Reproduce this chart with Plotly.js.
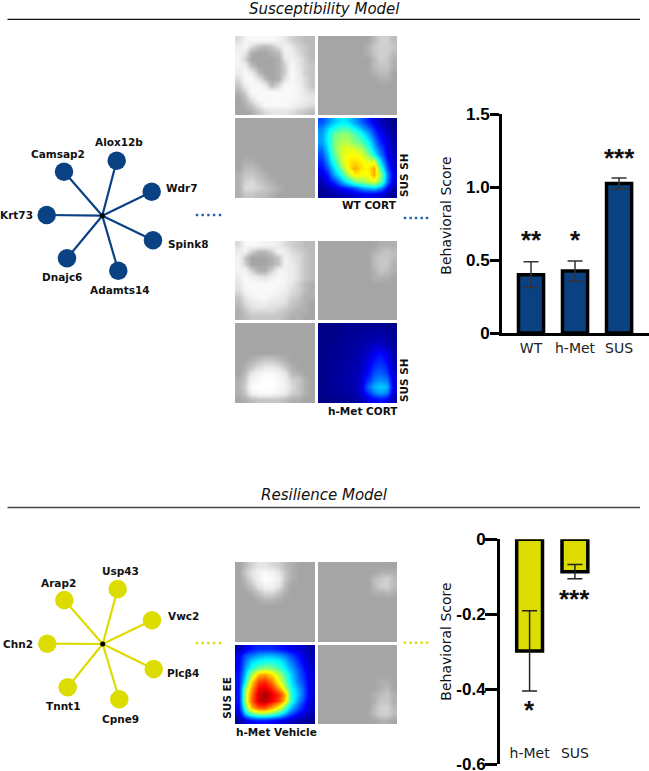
<!DOCTYPE html>
<html><head><meta charset="utf-8">
<script src="https://cdn.plot.ly/plotly-3.0.1.min.js"></script>
<style>html,body{margin:0;padding:0;background:#fff;overflow:hidden}#c{width:649px;height:771px}</style>
</head><body><div id="c"></div>
<script>
// ---------- data ----------
const susGenes = ['Alox12b','Camsap2','Wdr7','Krt73','Spink8','Dnajc6','Adamts14'];
const susNodeX = [116.7,64,151.7,46.7,153,67,118.3];
const susNodeY = [160.7,171.7,191.7,215,240.3,258.3,270.7];
const susHub = [102.3,215.7];
const susLabelX = [119.3,57.7,182.3,16,188,62.3,120];
const susLabelY = [142.3,154.3,188,215.3,244,277,290.3];

const resGenes = ['Usp43','Arap2','Vwc2','Chn2','Plcβ4','Tnnt1','Cpne9'];
const resNodeX = [117.7,64.3,152,47.3,153.7,67.7,119.3];
const resNodeY = [589,600,620.3,643.7,669,687.3,699.3];
const resHub = [102.7,644];
const resLabelX = [120,58.7,183.3,17.7,183.3,63,120.3];
const resLabelY = [570.7,583,616.3,644.3,673,705.7,719];

const susCats = ['WT','h-Met','SUS'];
const susVals = [0.40,0.425,1.025];
const susErr = [0.088,0.068,0.038];
const susStars = ['**','*','***'];
const susTicks = [0,0.5,1.0,1.5];
const susTickText = ['0','0.5','1.0','1.5'];

const resCats = ['h-Met','SUS'];
const resVals = [-0.298,-0.0865];
const resErr = [0.107,0.019];
const resStars = ['*','***'];
const resTicks = [0,-0.2,-0.4,-0.6];
const resTickText = ['0','-0.2','-0.4','-0.6'];

const wtTL = [
[5,8,9,9,9,9,8,6,4,3,2,2],[7,9,5,3,2,3,6,8,6,4,3,2],[8,6,1,0,0,1,2,8,7,5,3,2],[8,4,0,0,0,0,1,6,8,6,4,2],
[8,7,2,0,0,0,1,4,9,6,4,3],[7,9,7,2,0,0,1,4,9,7,4,3],[5,9,9,6,2,0,1,6,9,7,5,3],[3,7,9,9,7,2,5,9,9,8,5,3],
[1,4,9,9,9,9,9,9,9,8,6,5],[0,2,6,9,9,9,9,9,9,8,7,6],[0,1,3,6,9,9,9,9,8,7,6,5],[0,0,1,3,5,6,6,6,5,4,3,2]];
const wtTR = [
[0,0,0,0,0,0,0,0,2,4,4,2],[0,0,0,0,0,0,0,1,3,4,4,3],[0,0,0,0,0,0,0,1,3,4,4,2],[0,0,0,0,0,0,0,0,2,4,3,1],
[0,0,0,0,0,0,0,0,2,3,3,1],[0,0,0,0,0,0,0,0,1,2,2,0],[0,0,0,0,0,0,0,0,0,1,1,0],[0,0,0,0,0,0,0,0,0,0,0,0],
[0,0,0,0,0,0,0,0,0,0,0,0],[0,0,0,0,0,0,0,0,0,0,0,0],[0,0,0,0,0,0,0,0,0,0,0,0],[0,0,0,0,0,0,0,0,0,0,0,0]];
const wtBL = [
[0,0,0,0,0,0,0,0,0,0,0,0],[0,0,0,0,0,0,0,0,0,0,0,0],[0,0,0,0,0,0,0,0,0,0,0,0],[0,0,0,0,0,0,0,0,0,0,0,0],
[0,0,0,0,0,0,0,0,0,0,0,0],[0,0,0,0,0,0,0,0,0,0,0,0],[0,1,1,0,0,0,0,0,0,0,0,0],[0,2,2,1,0,0,0,0,0,0,0,0],
[1,3,3,2,1,0,0,0,0,0,0,0],[1,4,5,3,2,1,0,0,0,0,0,0],[1,5,5,4,3,2,1,0,0,0,0,0],[1,3,3,2,2,1,0,0,0,0,0,0]];
const wtJet = [
[20,26,32,36,34,28,22,16,10,6,3,1],[26,34,40,44,44,37,30,23,15,9,5,2],[28,38,48,52,52,46,40,31,20,12,7,3],
[28,38,50,55,55,50,46,38,26,15,9,4],[24,36,50,58,60,58,54,44,30,20,10,5],[20,32,48,58,62,62,60,52,38,24,12,6],
[16,28,42,56,64,66,64,60,60,34,16,7],[13,22,36,50,62,71,65,63,71,44,20,8],[9,16,30,40,54,64,62,62,71,52,26,10],
[5,11,18,28,38,48,52,56,60,48,24,8],[3,5,8,12,16,20,26,30,32,26,12,4],[2,3,4,5,6,8,10,10,10,8,4,2]];

const hmTL = [
[5,9,9,9,8,8,7,5,4,3,2,2],[7,8,4,2,2,4,8,7,5,4,3,2],[8,3,0,0,0,1,3,8,6,5,3,2],[8,4,0,0,0,1,3,8,7,5,3,2],
[8,8,4,1,1,4,8,8,7,5,3,2],[7,9,8,7,6,8,9,8,7,5,3,2],[6,9,9,9,9,9,9,8,6,4,2,1],[5,8,9,9,9,9,8,7,5,4,2,1],
[3,6,8,9,9,8,7,6,4,3,1,1],[2,5,6,7,7,6,6,5,3,2,1,0],[1,3,5,5,5,5,4,3,2,1,1,0],[1,2,3,3,3,3,3,2,1,1,0,0]];
const hmTR = [
[0,0,0,0,0,0,0,0,0,1,1,1],[0,0,0,0,0,0,0,0,1,2,3,2],[0,0,0,0,0,0,0,0,2,3,3,2],[0,0,0,0,0,0,0,0,2,3,3,1],
[0,0,0,0,0,0,0,0,1,3,2,1],[0,0,0,0,0,0,0,0,1,1,1,0],[0,0,0,0,0,0,0,0,0,0,0,0],[0,0,0,0,0,0,0,0,0,0,0,0],
[0,0,0,0,0,0,0,0,0,0,0,0],[0,0,0,0,0,0,0,0,0,0,0,0],[0,0,0,0,0,0,0,0,0,0,0,0],[0,0,0,0,0,0,0,0,0,0,0,0]];
const hmBL = [
[0,0,0,0,0,0,0,0,0,0,0,0],[0,0,0,0,0,0,0,0,0,0,0,0],[0,0,0,0,0,0,0,0,0,0,0,0],[0,0,0,0,0,0,0,0,0,0,0,0],
[0,0,0,0,0,0,0,0,0,0,0,0],[0,0,1,2,3,3,2,1,0,0,0,0],[0,1,3,5,6,6,5,3,1,0,0,0],[0,2,6,8,9,9,8,6,2,1,0,0],
[1,3,8,9,10,10,9,7,4,3,1,0],[1,4,9,10,10,10,9,8,5,3,1,0],[1,3,8,9,9,9,8,7,4,3,1,0],[0,1,2,3,3,3,3,2,1,1,0,0]];
const hmJet = [
[1,1,1,1,2,2,2,2,2,2,2,1],[1,1,1,2,2,2,3,3,4,4,3,2],[1,1,1,2,2,3,3,4,5,5,4,2],[1,1,2,2,3,3,4,6,8,8,6,3],
[1,1,2,2,3,4,5,7,11,13,10,4],[1,2,2,3,3,4,6,9,14,16,12,5],[1,2,2,3,4,5,6,11,17,19,15,6],[1,2,3,3,4,5,7,13,20,22,18,7],
[1,2,3,3,4,5,8,16,24,26,24,8],[1,2,3,3,4,5,9,22,30,33,30,9],[1,2,2,3,3,4,8,16,24,28,24,8],[1,1,1,2,2,3,5,9,12,14,12,4]];

const reTL = [
[0,2,4,6,6,5,4,2,1,0,0,0],[0,3,6,8,9,8,6,3,1,0,0,0],[0,2,5,8,10,9,7,3,1,0,0,0],[0,1,3,6,8,8,6,2,0,0,0,0],
[0,0,1,3,5,5,3,1,0,0,0,0],[0,0,0,1,2,2,1,0,0,0,0,0],[0,0,0,0,0,0,0,0,0,0,0,0],[0,0,0,0,0,0,0,0,0,0,0,0],
[0,0,0,0,0,0,0,0,0,0,0,0],[0,0,0,0,0,0,0,0,0,0,0,0],[0,0,0,0,0,0,0,0,0,0,0,0],[0,0,0,0,0,0,0,0,0,0,0,0]];
const reTR = [
[0,0,0,0,0,0,0,0,0,0,0,0],[0,0,0,0,0,0,0,0,0,1,1,1],[0,0,0,0,0,0,0,0,2,3,4,2],[0,0,0,0,0,0,0,0,2,4,4,2],
[0,0,0,0,0,0,0,0,1,1,2,1],[0,0,0,0,0,0,0,0,0,0,0,0],[0,0,0,0,0,0,0,0,0,0,0,0],[0,0,0,0,0,0,0,0,0,0,0,0],
[0,0,0,0,0,0,0,0,0,0,0,0],[0,0,0,0,0,0,0,0,0,0,0,0],[0,0,0,0,0,0,0,0,0,0,0,0],[0,0,0,0,0,0,0,0,0,0,0,0]];
const reBR = [
[0,0,0,0,0,0,0,0,0,0,0,0],[0,0,0,0,0,0,0,0,0,0,0,0],[0,0,0,0,0,0,0,0,0,0,0,0],[0,0,0,0,0,0,0,0,0,0,0,0],
[0,0,0,0,0,0,0,0,0,0,0,0],[0,0,0,0,0,0,0,0,0,1,1,0],[0,0,0,0,0,0,0,0,0,1,2,0],[0,0,0,0,0,0,0,0,1,2,3,1],
[0,0,0,0,0,0,0,0,1,3,3,1],[0,0,0,0,0,0,0,0,2,4,4,2],[0,0,0,0,0,0,0,0,2,4,4,2],[0,0,0,0,0,0,0,0,0,1,1,0]];
const reJet = [
[5,10,14,16,16,16,14,12,10,8,6,4],[10,20,24,28,30,30,28,24,18,13,8,5],[12,24,34,38,40,40,38,32,24,16,10,6],
[12,28,40,48,52,50,44,36,28,20,12,7],[14,32,54,70,72,66,56,44,32,22,14,8],[14,38,66,82,84,76,62,48,34,24,16,8],
[14,50,72,88,90,84,72,56,38,28,18,8],[14,54,76,92,96,90,84,70,40,30,18,8],[14,54,78,92,94,88,80,66,40,26,15,7],
[12,46,70,80,80,72,62,46,30,20,12,6],[8,30,44,50,50,46,38,28,18,12,7,4],[3,8,12,14,14,12,10,8,6,4,3,2]];

// ---------- styles / layout ----------
const W = 649, H = 771;
const BLUE = '#0a4183', YEL = '#dcdc00';
const grayScale = [[0,'#a5a5a5'],[0.6,'#e6e6e6'],[1,'#ffffff']];
const jetScale = [[0,'#00007f'],[0.125,'#0000ff'],[0.375,'#00ffff'],[0.625,'#ffff00'],[0.875,'#ff0000'],[1,'#7f0000']];
const bodyFont = 'DejaVu Sans', numFont = 'Liberation Sans';
const traces = [], layout = {
  width:W, height:H, margin:{l:0,r:0,t:0,b:0}, paper_bgcolor:'#fff', plot_bgcolor:'rgba(0,0,0,0)',
  showlegend:false, annotations:[], bargap:0,
  xaxis:{domain:[0,1],range:[0,W],visible:false,fixedrange:true},
  yaxis:{domain:[0,1],range:[H,0],visible:false,fixedrange:true}
};
const dx = (a,b)=>[a/W,b/W], dy = (top,bot)=>[1-bot/H,1-top/H];
let axisN = 2;
function panel(z, kind, l, t, r, b){
  const n = axisN++;
  layout['xaxis'+n] = {domain:dx(l,r),range:[-0.5,11.5],visible:false,anchor:'y'+n,fixedrange:true};
  layout['yaxis'+n] = {domain:dy(t,b),range:[11.5,-0.5],visible:false,anchor:'x'+n,fixedrange:true};
  const jet = kind==='jet';
  traces.push({type:'heatmap',z,xaxis:'x'+n,yaxis:'y'+n,zsmooth:'best',showscale:false,hoverinfo:'skip',
    colorscale:jet?jetScale:grayScale,zmin:0,zmax:jet?100:10});
}
const col1=[235,315], col2=[318,397];
panel(wtTL,'g',col1[0],36,col1[1],115); panel(wtTR,'g',col2[0],36,col2[1],115);
panel(wtBL,'g',col1[0],118,col1[1],198); panel(wtJet,'jet',col2[0],118,col2[1],198);
panel(hmTL,'g',col1[0],241,col1[1],320); panel(hmTR,'g',col2[0],241,col2[1],320);
panel(hmBL,'g',col1[0],323,col1[1],403); panel(hmJet,'jet',col2[0],323,col2[1],403);
panel(reTL,'g',col1[0],562,col1[1],642); panel(reTR,'g',col2[0],562,col2[1],642);
panel(reJet,'jet',col1[0],645,col1[1],724); panel(reBR,'g',col2[0],645,col2[1],724);

// networks
function network(genes,nx,ny,hub,lx,ly,color){
  nx.forEach((x,i)=>traces.push({type:'scatter',mode:'lines',x:[hub[0],x],y:[hub[1],ny[i]],line:{color,width:2.2},hoverinfo:'skip'}));
  traces.push({type:'scatter',mode:'markers',x:nx,y:ny,marker:{color,size:18.5},hoverinfo:'skip'});
  traces.push({type:'scatter',mode:'markers',x:[hub[0]],y:[hub[1]],marker:{color:'#000',size:5},hoverinfo:'skip'});
  genes.forEach((g,i)=>layout.annotations.push({x:lx[i],y:ly[i],xref:'x',yref:'y',text:g,showarrow:false,
    font:{family:bodyFont,size:10.5,color:'#111',weight:700},xanchor:'center',yanchor:'middle'}));
}
network(susGenes,susNodeX,susNodeY,susHub,susLabelX,susLabelY,BLUE);
network(resGenes,resNodeX,resNodeY,resHub,resLabelX,resLabelY,YEL);

// dotted connectors and rules
const dotStepsL=[197,202.7,208.4,214.1,220], dotStepsR=[405,410.7,416,421.7,427];
function dots(xs,y,color){traces.push({type:'scatter',mode:'markers',x:xs,y:xs.map(()=>y),marker:{color,size:2.4,symbol:'square'},hoverinfo:'skip'});}
dots(dotStepsL,215,'#1f5fa8'); dots(dotStepsR,218,'#1f5fa8'); dots(dotStepsL,643,YEL); dots(dotStepsR,642.7,YEL);
traces.push({type:'scatter',mode:'lines',x:[7.5,640],y:[19.3,19.3],line:{color:'#111',width:1.3},hoverinfo:'skip'});
traces.push({type:'scatter',mode:'lines',x:[7.5,640],y:[507.5,507.5],line:{color:'#444',width:1.5},hoverinfo:'skip'});

function txt(x,y,text,size,opts={}){
  layout.annotations.push(Object.assign({x,y,xref:'x',yref:'y',text,showarrow:false,xanchor:'center',yanchor:'middle',
    font:{family:bodyFont,size,color:'#111',weight:opts.bold?700:400,style:opts.italic?'italic':'normal'}},opts.extra||{}));
}
txt(324.5,9,'Susceptibility Model',15,{italic:true});
txt(324.5,495,'Resilience Model',15,{italic:true});
txt(369,205,'WT CORT',10.5,{bold:true});
txt(363,411,'h-Met CORT',10.5,{bold:true});
txt(276,732,'h-Met Vehicle',10.5,{bold:true});
txt(404,175,'SUS SH',10.5,{bold:true,extra:{textangle:-90}});
txt(404,380,'SUS SH',10.5,{bold:true,extra:{textangle:-90}});
txt(226.7,698,'SUS EE',10.5,{bold:true,extra:{textangle:-90}});
txt(445.7,216,'Behavioral Score',14,{extra:{textangle:-90}});
txt(445.7,642,'Behavioral Score',14,{extra:{textangle:-90}});

// bars
const xA = 20, yA = 20;
layout['xaxis'+xA] = {domain:dx(502,W),range:[-0.659,2.68],anchor:'y'+yA,tickvals:[0,1,2],ticktext:susCats,
  showline:true,linecolor:'#000',linewidth:3,ticks:'',tickfont:{family:bodyFont,size:14,color:'#222'},zeroline:false,showgrid:false,fixedrange:true};
layout['yaxis'+yA] = {domain:dy(114.3,333),range:[0,1.5],anchor:'x'+xA,tickvals:susTicks,ticktext:susTickText,
  showline:true,linecolor:'#000',linewidth:3,ticks:'outside',ticklen:9,tickwidth:3,tickcolor:'#000',ticklabelstandoff:-3,
  tickfont:{family:numFont,size:17,color:'#000',weight:700},zeroline:false,showgrid:false,fixedrange:true};
traces.push({type:'bar',x:[0,1,2],y:susVals,xaxis:'x'+xA,yaxis:'y'+yA,width:0.57,
  marker:{color:BLUE,line:{color:'#000',width:3.5}},error_y:{type:'data',array:susErr,visible:true,color:'#333',thickness:1.5,width:7.5},hoverinfo:'skip'});
const susStarY=[0.635,0.635,1.20];
susStars.forEach((s,i)=>layout.annotations.push({x:i,y:susStarY[i],xref:'x'+xA,yref:'y'+yA,text:s,showarrow:false,
  font:{family:numFont,size:26,color:'#111',weight:700}}));

const xB = 21, yB = 21;
layout['xaxis'+xB] = {domain:dx(500,605),range:[-0.653,1.664],anchor:'y'+yB,tickvals:[0,1],ticktext:resCats,
  showline:false,ticks:'',ticklabelstandoff:-21,ticklabeloverflow:'allow',tickfont:{family:bodyFont,size:14,color:'#222'},zeroline:false,showgrid:false,fixedrange:true};
layout['xaxis'+(xB+1)] = {domain:dx(500,605),range:[-0.653,1.664],anchor:'y'+yB,overlaying:'x'+xB,side:'top',
  showline:true,linecolor:'#000',linewidth:3,ticks:'',showticklabels:false,zeroline:false,showgrid:false,fixedrange:true};
layout['yaxis'+yB] = {domain:dy(539.3,764),range:[-0.6,0],anchor:'x'+xB,tickvals:resTicks,ticktext:resTickText,
  showline:true,linecolor:'#000',linewidth:3,ticks:'outside',ticklen:12,tickwidth:3,tickcolor:'#000',ticklabelstandoff:-4,ticklabeloverflow:'allow',
  tickfont:{family:numFont,size:17,color:'#000',weight:700},zeroline:false,showgrid:false,fixedrange:true};
traces.push({type:'bar',x:[0,1],y:resVals,xaxis:'x'+xB,yaxis:'y'+yB,width:0.57,
  marker:{color:YEL,line:{color:'#000',width:3.5}},error_y:{type:'data',array:resErr,visible:true,color:'#222',thickness:1.5,width:7.5},hoverinfo:'skip'});
const resStarY=[-0.455,-0.16];
resStars.forEach((s,i)=>layout.annotations.push({x:i,y:resStarY[i],xref:'x'+xB,yref:'y'+yB,text:s,showarrow:false,
  font:{family:numFont,size:26,color:'#111',weight:700}}));

Plotly.newPlot('c',traces,layout,{displayModeBar:false,staticPlot:true});
</script></body></html>
